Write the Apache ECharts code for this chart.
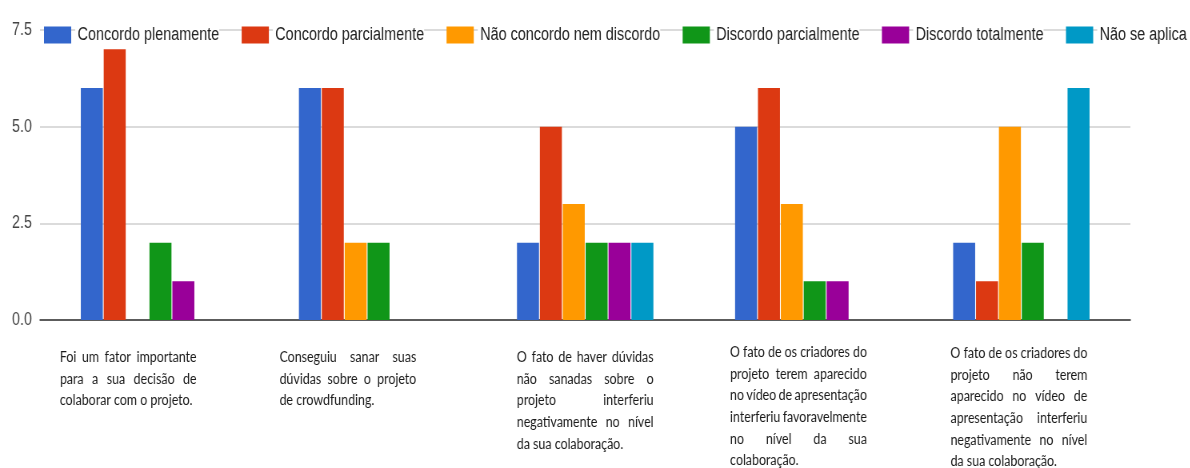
<!DOCTYPE html>
<html>
<head>
<meta charset="utf-8">
<script src="https://cdn.jsdelivr.net/npm/echarts@6/dist/echarts.min.js"></script>
<style>
  html, body { margin: 0; padding: 0; background: #ffffff; overflow: hidden; width: 1190px; height: 468px; }
  /* the chart is laid out wide and squeezed horizontally to its final 1190px width */
  #chart { width: 1488px; height: 468px; transform: scaleX(0.8); transform-origin: 0 0; }
</style>
</head>
<body>
<div id="chart"></div>
<script>
// Statements, one entry per line of the justified caption under each group
const categoryLines = [
  ["Foi um fator importante", "para a sua decisão de", "colaborar com o projeto."],
  ["Conseguiu sanar suas", "dúvidas sobre o projeto", "de crowdfunding."],
  ["O fato de haver dúvidas", "não sanadas sobre o", "projeto interferiu", "negativamente no nível", "da sua colaboração."],
  ["O fato de os criadores do", "projeto terem aparecido", "no vídeo de apresentação", "interferiu favoravelmente", "no nível da sua", "colaboração."],
  ["O fato de os criadores do", "projeto não terem", "aparecido no vídeo de", "apresentação interferiu", "negativamente no nível", "da sua colaboração."]
];
const categories = categoryLines.map(lines => lines.join(" "));

const seriesNames = [
  "Concordo plenamente", "Concordo parcialmente", "Não concordo nem discordo",
  "Discordo parcialmente", "Discordo totalmente", "Não se aplica"
];
const concordoPlenamente     = [6, 6, 2, 5, 2];
const concordoParcialmente   = [7, 6, 5, 6, 1];
const naoConcordoNemDiscordo = [0, 2, 3, 3, 5];
const discordoParcialmente   = [2, 2, 2, 1, 2];
const discordoTotalmente     = [1, 0, 2, 1, 0];
const naoSeAplica            = [0, 0, 2, 0, 6];

const yTickLabels = ["0.0", "2.5", "5.0", "7.5"];

const seriesValues = [
  concordoPlenamente, concordoParcialmente, naoConcordoNemDiscordo,
  discordoParcialmente, discordoTotalmente, naoSeAplica
];
const colors = ["#3366cc", "#dc3912", "#ff9900", "#109618", "#990099", "#0099c6"];

const UI_FONT = "Liberation Sans";

// ---- justified captions built from rich-text tokens ----
const CAPTION_FONT = "Lato";
const CAPTION_SIZE = 15.5;
const CAPTION_LH = 21.7;
const CAPTION_W = 171;
const captionShift = [-26, -24, 0, -6, -3];   // horizontal nudge of each caption block
const captionDrop = [5, 5, 5, 0, 1];          // extra space above each caption block

const measureCtx = document.createElement("canvas").getContext("2d");
measureCtx.font = CAPTION_SIZE + "px " + CAPTION_FONT;
const textW = s => measureCtx.measureText(s).width;

const rich = {
  w: { fontFamily: CAPTION_FONT, fontSize: CAPTION_SIZE, color: "#1a1a1a", lineHeight: CAPTION_LH }
};
function gapToken(px) {
  const k = Math.max(0, Math.round(px * 10));
  const name = "g" + k;
  if (!rich[name]) {
    rich[name] = { fontFamily: CAPTION_FONT, fontSize: CAPTION_SIZE, lineHeight: CAPTION_LH, width: k / 10 };
  }
  return "{" + name + "| }";
}
function dropToken(px) {
  const name = "v" + px;
  if (!rich[name]) rich[name] = { fontSize: 1, lineHeight: px, height: px };
  return "{" + name + "| }";
}

const captionText = categoryLines.map((lines, ci) => {
  const shift = captionShift[ci];
  const out = lines.map((line, li) => {
    const words = line.split(" ");
    const widths = words.map(textW);
    const sum = widths.reduce((a, b) => a + b, 0);
    const last = li === lines.length - 1 || words.length === 1;
    let s;
    if (last) {
      const sp = textW(" ");
      s = words.map(w => "{w|" + w + "}").join(gapToken(sp));
      s += gapToken(Math.max(0, CAPTION_W - sum - sp * (words.length - 1)));
    } else {
      const g = Math.max(3, (CAPTION_W - sum) / (words.length - 1));
      s = words.map(w => "{w|" + w + "}").join(gapToken(g));
    }
    if (shift < 0) s = s + gapToken(-2 * shift);
    else if (shift > 0) s = gapToken(2 * shift) + s;
    return s;
  });
  if (captionDrop[ci] > 0) out.unshift(dropToken(captionDrop[ci]));
  return out.join("\n");
});

const chart = echarts.init(document.getElementById("chart"), null, { renderer: "canvas" });

chart.setOption({
  animation: false,
  backgroundColor: "#ffffff",
  color: colors,
  legend: {
    left: 50,
    top: 21,
    width: 1436,
    itemWidth: 34,
    itemHeight: 17,
    itemGap: 28,
    icon: "rect",
    selectedMode: false,
    textStyle: {
      fontFamily: UI_FONT,
      fontSize: 18,
      color: "#222222",
      backgroundColor: "#ffffff",
      padding: [0, 0, 0, 3]
    },
    data: seriesNames
  },
  grid: { left: 50, right: 75, top: 30, bottom: 148, containLabel: false, outerBoundsMode: "none" },
  xAxis: {
    type: "category",
    data: categories,
    axisTick: { show: false },
    axisLine: { lineStyle: { color: "#333333", width: 1.5 } },
    axisLabel: {
      interval: 0,
      hideOverlap: false,
      margin: 21,
      align: "center",
      verticalAlign: "top",
      formatter: (value, idx) => captionText[idx],
      rich: rich
    }
  },
  yAxis: {
    type: "value",
    min: 0,
    max: 7.5,
    interval: 2.5,
    axisLine: { show: false },
    axisTick: { show: false },
    splitLine: { lineStyle: { color: "#cfcfcf", width: 1.5 } },
    axisLabel: {
      margin: 10,
      fontFamily: UI_FONT,
      fontSize: 18,
      color: "#444444",
      formatter: v => yTickLabels[Math.round(v / 2.5)]
    }
  },
  series: seriesNames.map((name, i) => ({
    name: name,
    type: "bar",
    data: seriesValues[i],
    barWidth: 27.5,
    barGap: "4%",
    itemStyle: { color: colors[i] }
  }))
});
</script>
</body>
</html>
